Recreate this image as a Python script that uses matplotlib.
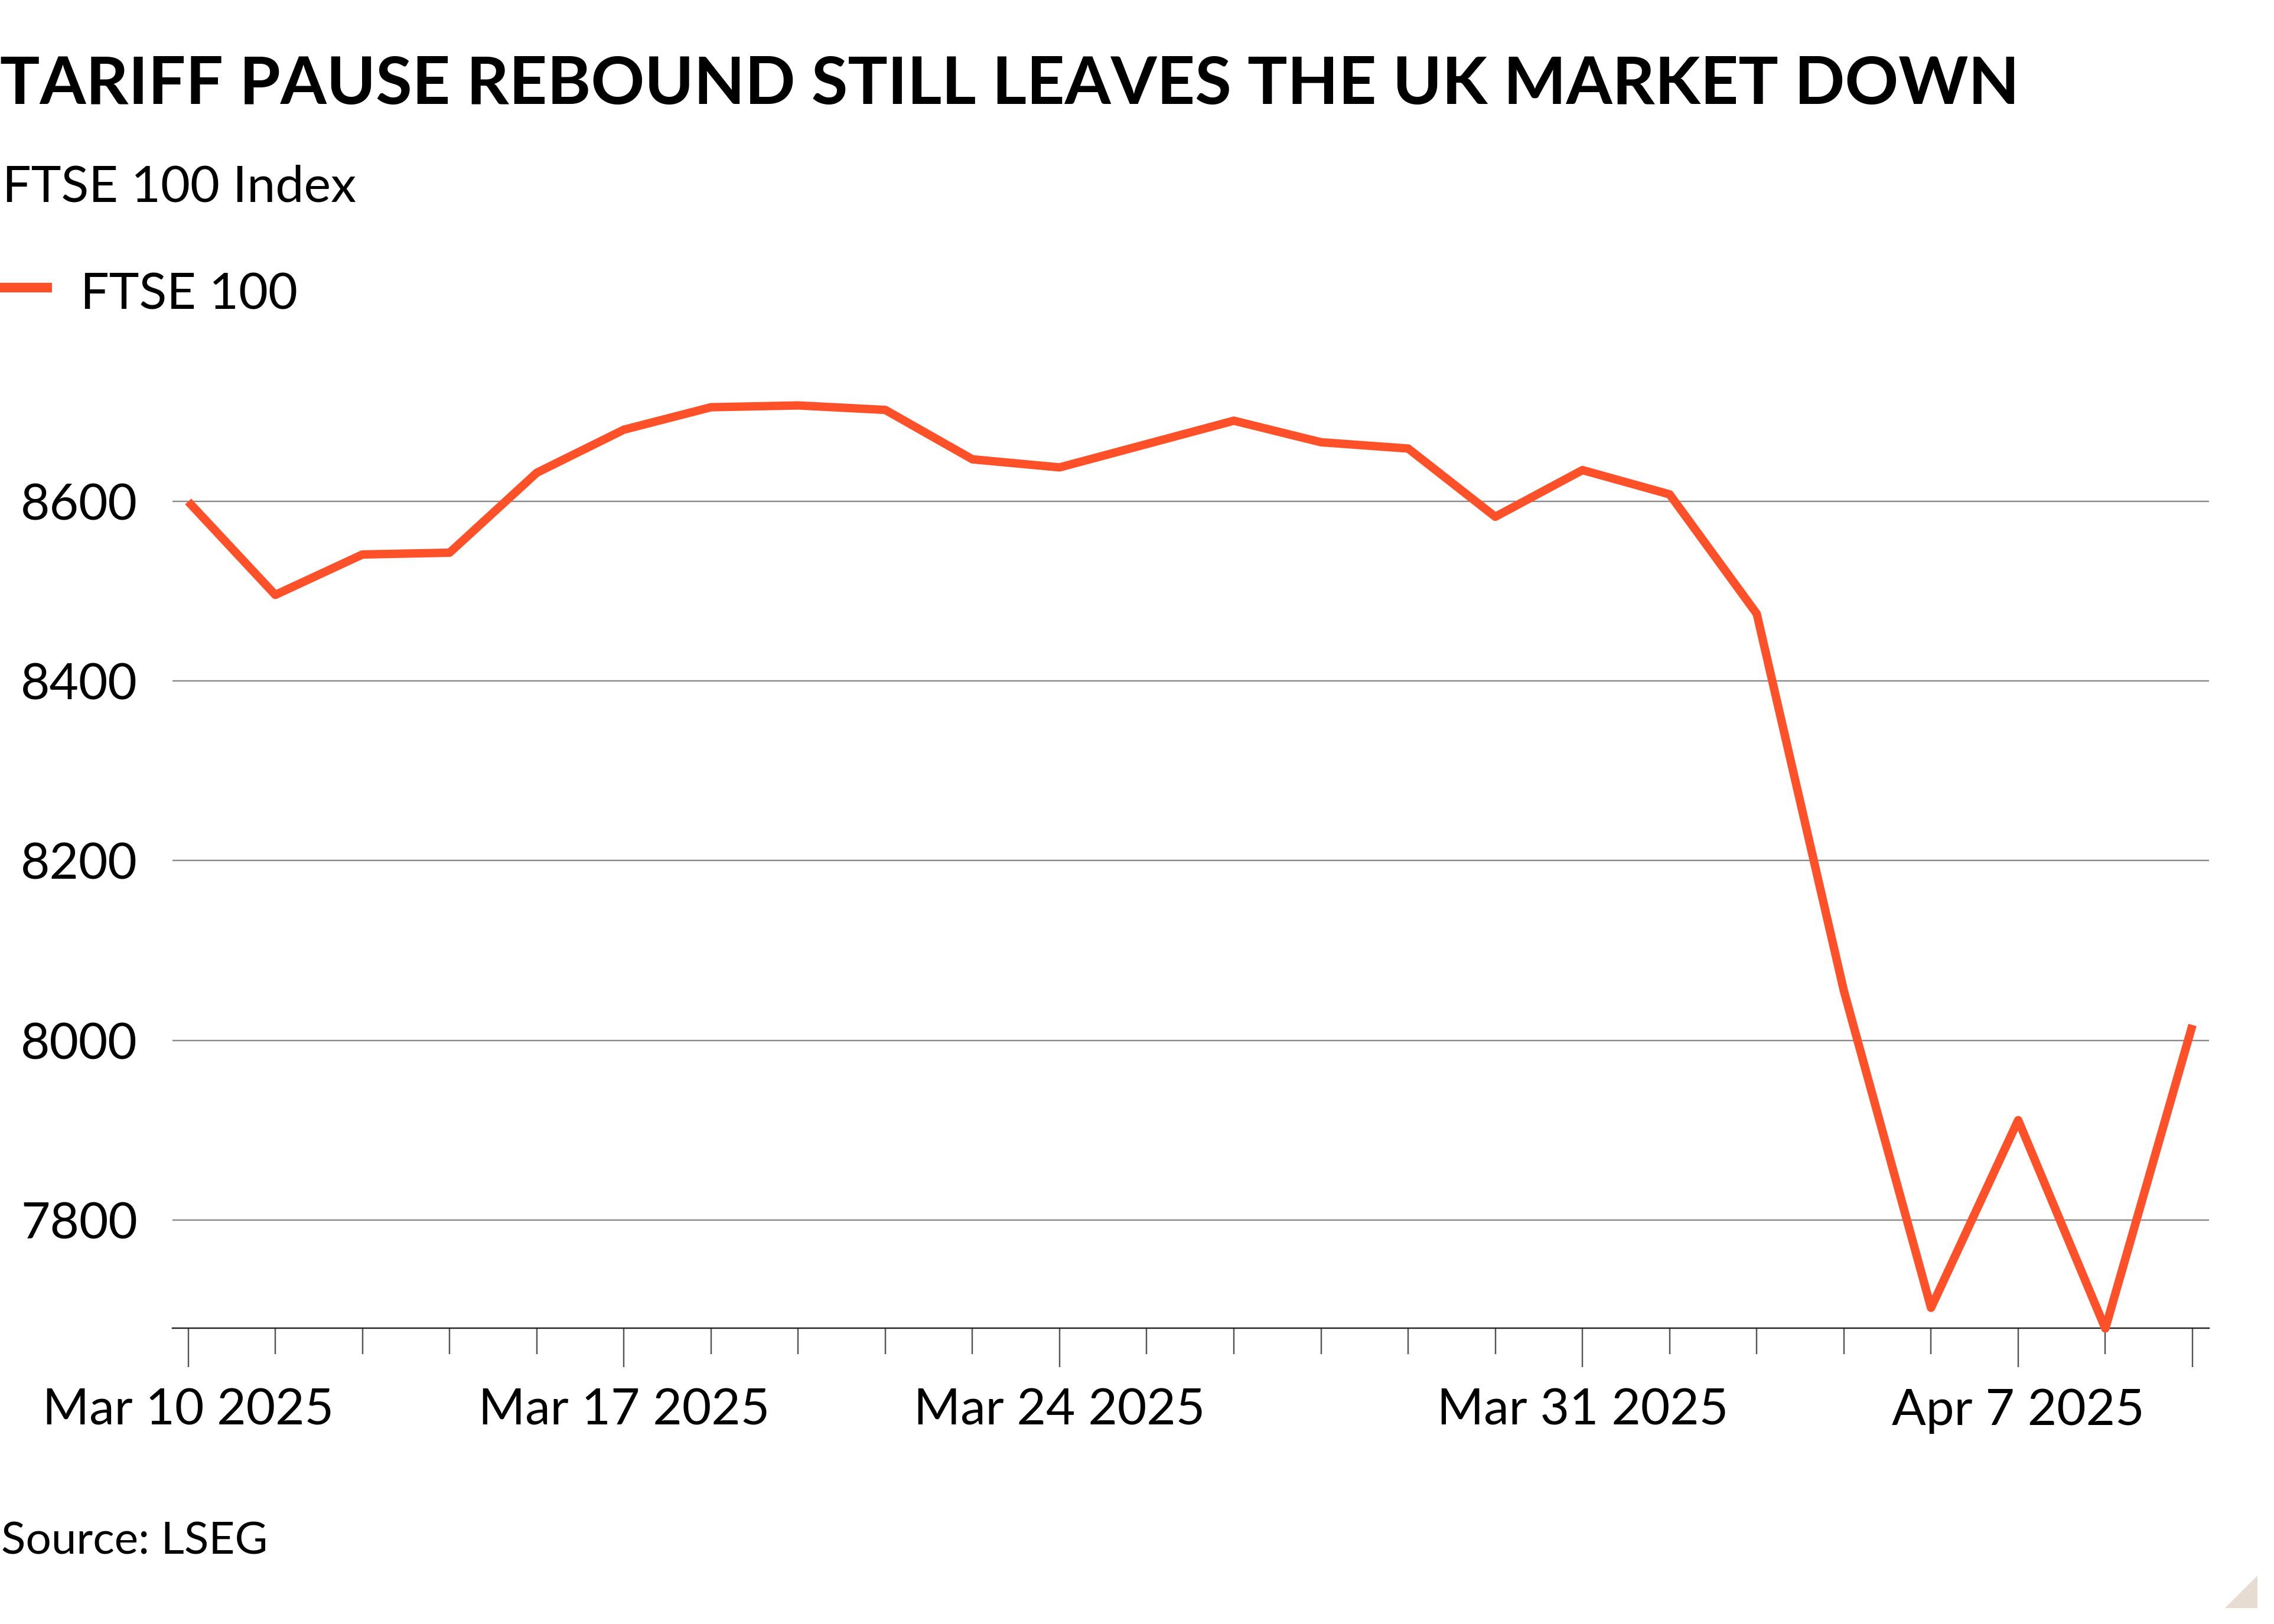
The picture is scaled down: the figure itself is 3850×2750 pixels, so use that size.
import matplotlib
matplotlib.use('Agg')
import matplotlib.pyplot as plt
from matplotlib.patches import Polygon
from matplotlib.ticker import FixedLocator

plt.rcParams['font.family'] = ['Lato', 'DejaVu Sans']

# FTSE 100 closes, one per trading day
ftse = [8600, 8496, 8541, 8543, 8632, 8680, 8705, 8707, 8702, 8647,
        8638, 8664, 8690, 8666, 8659, 8583, 8635, 8608, 8475, 8055,
        7702, 7911, 7679, 8017]
major_pos = [0, 5, 10, 16, 21, 23]
major_labels = ['Mar 10 2025', 'Mar 17 2025', 'Mar 24 2025', 'Mar 31 2025', 'Apr 7 2025', '']
y_ticks = [7800, 8000, 8200, 8400, 8600]

title = 'TARIFF PAUSE REBOUND STILL LEAVES THE UK MARKET DOWN'
subtitle = 'FTSE 100 Index'
series_name = 'FTSE 100'
source = 'Source: LSEG'

orange = '#ff5129'
W, H = 3850, 2750

fig = plt.figure(figsize=(15.4, 11.0), dpi=250)
fig.patch.set_facecolor('white')

ax = fig.add_axes([292 / W, 1 - 2249 / H, (3740 - 292) / W, (2249 - 687) / H])

x = list(range(len(ftse)))
ax.plot(x, ftse, color=orange, linewidth=4.1, solid_joinstyle='round',
        solid_capstyle='butt', clip_on=False, zorder=3)

ax.set_xlim(-0.18, len(ftse) - 1 + 0.19)
ax.set_ylim(7679.4, 8706.7)

for s in ['left', 'right', 'top']:
    ax.spines[s].set_visible(False)
ax.spines['bottom'].set_color('#222222')
ax.spines['bottom'].set_linewidth(0.7)

ax.set_yticks(y_ticks)
ax.set_yticklabels([str(v) for v in y_ticks])
ax.tick_params(axis='y', length=0, pad=17, labelsize=24.6)
ax.grid(axis='y', color='#8a8a8a', linewidth=0.7)
ax.set_axisbelow(True)

ax.xaxis.set_major_locator(FixedLocator(major_pos))
ax.set_xticklabels(major_labels)
ax.xaxis.set_minor_locator(FixedLocator([i for i in x if i not in major_pos]))
ax.tick_params(axis='x', which='major', length=19, width=0.7, color='#555555',
               pad=10, labelsize=24.6)
ax.tick_params(axis='x', which='minor', length=12.7, width=0.7, color='#555555')

t = fig.text(0 / W, 1 - 176 / H, title, fontsize=34.5, fontweight='bold', va='baseline', ha='left')
# squeeze the title to the width it has in the original
renderer = fig.canvas.get_renderer()
w = t.get_window_extent(renderer).width
t.set_fontsize(34.5 * 3420 / w)

fig.text(4 / W, 1 - 342 / H, subtitle, fontsize=24.8, va='baseline', ha='left')
fig.add_artist(plt.Line2D([0, 88 / W], [1 - 487 / H, 1 - 487 / H], color=orange,
                          linewidth=4.7, solid_capstyle='butt'))
fig.text(136 / W, 1 - 523 / H, series_name, fontsize=24.8, va='baseline', ha='left')
fig.text(2 / W, 1 - 2632 / H, source, fontsize=22, va='baseline', ha='left')

tri = Polygon([(3767 / W, 1 - 2723 / H), (3822 / W, 1 - 2723 / H), (3822 / W, 1 - 2668 / H)],
              closed=True, transform=fig.transFigure, facecolor='#e6dcd1', edgecolor='none')
fig.add_artist(tri)

fig.savefig('out.png', dpi=250)
